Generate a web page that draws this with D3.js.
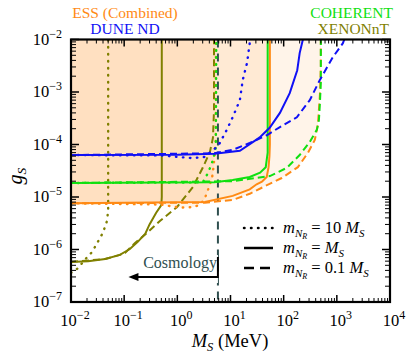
<!DOCTYPE html>
<html>
<head>
<meta charset="utf-8">
<script src="https://cdn.jsdelivr.net/npm/d3@7"></script>
<style>
  body { margin: 0; background: #fff; }
  text { font-family: "Liberation Serif", "Times New Roman", serif; }
</style>
</head>
<body>
<svg id="chart" width="407" height="358"></svg>
<script>
// Each curve is a list of [M_S in MeV, g_S]

// DUNE ND
const duneSolid = [[0.01, 6.3e-5], [1, 6.4e-5], [5, 6.7e-5], [15, 7.6e-5], [35, 1.35e-4], [55, 2.1e-4],
  [85, 4.0e-4], [130, 9.5e-4], [180, 2.6e-3], [200, 5.5e-3], [230, 1e-2]];
const duneDotted = [[0.01, 6.3e-5], [0.5, 6.2e-5], [1, 5.8e-5], [1.95, 5.5e-5], [3.3, 5.8e-5], [4.7, 7.9e-5],
  [5.5, 8.9e-5], [6.3, 1.07e-4], [8.5, 1.9e-4], [11, 3.3e-4], [15, 7e-4], [17, 1.7e-3], [20.5, 3.6e-3],
  [23, 8.6e-3], [25, 1e-2]];
const duneDashed = [[0.01, 6.3e-5], [5, 6.8e-5], [11, 7.9e-5], [23, 1.07e-4], [48, 1.5e-4], [85, 2.15e-4],
  [177, 3.3e-4], [310, 7e-4], [480, 1.7e-3], [840, 4.6e-3], [1300, 8.5e-3], [1380, 1e-2]];

// COHERENT
const coherentSolid = [[0.01, 1.85e-5], [5, 1.9e-5], [11, 2.1e-5], [23, 2.4e-5], [36, 2.9e-5], [46, 3.7e-5],
  [50, 7e-5], [50, 1e-2]];
const coherentDotted = [[0.01, 1.85e-5], [3, 1.9e-5], [3.8, 2.9e-5], [4.7, 5.1e-5], [5.3, 9e-5], [5.4, 1e-2]];
const coherentDashed = [[0.01, 1.85e-5], [11, 2.0e-5], [55, 2.5e-5], [115, 3.6e-5], [200, 6.3e-5],
  [310, 1.12e-4], [420, 1.9e-4], [460, 2.9e-4], [480, 6e-4], [500, 1.5e-3], [500, 1e-2]];

// ESS (Combined)
const essSolid = [[0.01, 7.6e-6], [3.3, 8e-6], [11, 1.05e-5], [23, 1.4e-5], [31, 1.75e-5], [39, 1.95e-5],
  [48, 2.4e-5], [52, 3.7e-5], [54, 6e-5], [55, 1e-4], [55, 1e-2]];
const essDotted = [[0.01, 7.6e-6], [0.47, 7.2e-6], [1.1, 6.3e-6], [2, 6.4e-6], [2.7, 7.2e-6], [3.3, 9.5e-6],
  [3.9, 1.5e-5], [4.5, 2.3e-5], [4.8, 3.8e-5], [5.1, 7e-5], [5.3, 1.3e-4], [5.3, 1e-2]];
const essDashed = [[0.01, 7.6e-6], [3.3, 7.8e-6], [11, 8.8e-6], [23, 1.15e-5], [44, 1.6e-5], [92, 2.3e-5],
  [185, 3.7e-5], [285, 6.9e-5], [385, 1.22e-4], [440, 2.35e-4], [480, 8.7e-4], [500, 3e-3], [500, 1e-2]];

// XENONnT
const xenonSolid = [[0.01, 5.8e-7], [0.021, 6e-7], [0.044, 6.6e-7], [0.083, 7.9e-7], [0.128, 1.02e-6],
  [0.18, 1.4e-6], [0.25, 2e-6], [0.3, 3e-6], [0.4, 5e-6], [0.5, 7e-6], [0.51, 1e-5], [0.51, 1e-2]];
const xenonDotted = [[0.01, 3.6e-7], [0.0135, 4.4e-7], [0.018, 6.3e-7], [0.025, 9e-7], [0.032, 1.4e-6],
  [0.04, 2.1e-6], [0.048, 3.6e-6], [0.05, 6e-6], [0.05, 1e-2]];
const xenonDashed = [[0.01, 5.8e-7], [0.044, 6.6e-7], [0.083, 7.9e-7], [0.104, 8.6e-7], [0.16, 1.33e-6],
  [0.28, 2.15e-6], [0.47, 3.5e-6], [0.98, 6.4e-6], [1.96, 1.55e-5], [3.0, 3.6e-5], [4.1, 7.2e-5],
  [4.67, 1.33e-4], [4.9, 4.5e-4], [4.9, 1e-2]];

// cosmology bound (vertical line)
const cosmoMass = 5.8;

// axes
const xDomain = [1e-2, 1e4];
const yDomain = [1e-7, 1e-2];
const xTickExps = [-2, -1, 0, 1, 2, 3, 4];
const yTickExps = [-7, -6, -5, -4, -3, -2];

const legendLabels = ["10", "", "0.1"];

const svg = d3.select("#chart");
const pLeft = 71, pRight = 390, pTop = 39.5, pBottom = 302;

const x = d3.scaleLog().domain(xDomain).range([pLeft, pRight]);
const y = d3.scaleLog().domain(yDomain).range([pBottom, pTop]);

const colors = {
  dune: "#1010f5",
  coherent: "#10e010",
  ess: "#ff8a14",
  xenon: "#808000",
  cosmo: "#2f4f4f"
};

const dashes = { solid: null, dotted: "0.5,6.5", dashed: "7,4" };

svg.append("clipPath").attr("id", "plotclip")
  .append("rect")
  .attr("x", pLeft).attr("y", pTop)
  .attr("width", pRight - pLeft).attr("height", pBottom - pTop);

const plot = svg.append("g").attr("clip-path", "url(#plotclip)");

const line = d3.line().x(d => x(d[0])).y(d => y(d[1]));

// ESS fills: area above each curve, stacked with low alpha
[essDotted, essSolid, essDashed].forEach(c => {
  const poly = c.concat([[c[c.length - 1][0], 1e-2], [c[0][0], 1e-2]]);
  plot.append("path")
    .attr("d", line(poly) + "Z")
    .attr("fill", "#ff8000")
    .attr("fill-opacity", 0.085)
    .attr("stroke", "none");
});

// cosmology dashed line
plot.append("line")
  .attr("x1", x(cosmoMass)).attr("x2", x(cosmoMass))
  .attr("y1", pTop).attr("y2", pBottom)
  .attr("stroke", colors.cosmo)
  .attr("stroke-width", 2)
  .attr("stroke-dasharray", "8,6");

// curves
const curves = [
  { d: xenonDotted, c: colors.xenon, s: "dotted" },
  { d: xenonDashed, c: colors.xenon, s: "dashed" },
  { d: xenonSolid, c: colors.xenon, s: "solid" },
  { d: essDotted, c: colors.ess, s: "dotted" },
  { d: essDashed, c: colors.ess, s: "dashed" },
  { d: essSolid, c: colors.ess, s: "solid" },
  { d: coherentDotted, c: colors.coherent, s: "dotted" },
  { d: coherentDashed, c: colors.coherent, s: "dashed" },
  { d: coherentSolid, c: colors.coherent, s: "solid" },
  { d: duneDotted, c: colors.dune, s: "dotted" },
  { d: duneDashed, c: colors.dune, s: "dashed" },
  { d: duneSolid, c: colors.dune, s: "solid" }
];

curves.forEach(k => {
  plot.append("path")
    .attr("d", line(k.d))
    .attr("fill", "none")
    .attr("stroke", k.c)
    .attr("stroke-width", k.s === "dotted" ? 2.4 : 2)
    .attr("stroke-linecap", k.s === "dotted" ? "round" : "butt")
    .attr("stroke-dasharray", dashes[k.s]);
});

// Cosmology annotation
const cx = x(cosmoMass);
svg.append("rect")
  .attr("x", cx - 76).attr("y", 255)
  .attr("width", 76).attr("height", 28)
  .attr("fill", "#fff");
svg.append("text")
  .attr("x", cx - 1).attr("y", 268)
  .attr("text-anchor", "end")
  .attr("font-size", 16)
  .attr("fill", colors.cosmo)
  .text("Cosmology");
svg.append("path")
  .attr("d", `M${cx},257 V277 H${x(0.17)}`)
  .attr("fill", "none")
  .attr("stroke", "#000")
  .attr("stroke-width", 2);
svg.append("path")
  .attr("d", `M${x(0.17) - 8},277 l10,-4 v8 Z`)
  .attr("fill", "#000");

// frame + ticks (inward, all four sides)
const frame = svg.append("g");
frame.append("rect")
  .attr("x", pLeft).attr("y", pTop)
  .attr("width", pRight - pLeft).attr("height", pBottom - pTop)
  .attr("fill", "none").attr("stroke", "#000").attr("stroke-width", 2.2);

function logTicks(exps) {
  const out = [];
  for (let i = 0; i < exps.length; i++) {
    const p = Math.pow(10, exps[i]);
    out.push({ v: p, major: true });
    if (i < exps.length - 1) {
      for (let m = 2; m <= 9; m++) out.push({ v: m * p, major: false });
    }
  }
  return out;
}

logTicks(xTickExps).forEach(t => {
  const len = t.major ? 7 : 4;
  const px = x(t.v);
  frame.append("line").attr("x1", px).attr("x2", px).attr("y1", pBottom).attr("y2", pBottom - len)
    .attr("stroke", "#000").attr("stroke-width", t.major ? 1.5 : 1);
  frame.append("line").attr("x1", px).attr("x2", px).attr("y1", pTop).attr("y2", pTop + len)
    .attr("stroke", "#000").attr("stroke-width", t.major ? 1.5 : 1);
});

logTicks(yTickExps).forEach(t => {
  const len = t.major ? 8 : 5;
  const py = y(t.v);
  frame.append("line").attr("x1", pLeft).attr("x2", pLeft + len).attr("y1", py).attr("y2", py)
    .attr("stroke", "#000").attr("stroke-width", t.major ? 1.5 : 1);
  frame.append("line").attr("x1", pRight).attr("x2", pRight - len).attr("y1", py).attr("y2", py)
    .attr("stroke", "#000").attr("stroke-width", t.major ? 1.5 : 1);
});

// tick labels: 10^n
function powLabel(g, px, py, exp, anchor) {
  const t = g.append("text")
    .attr("x", px).attr("y", py)
    .attr("text-anchor", anchor)
    .attr("font-size", 16.5)
    .attr("fill", "#000");
  t.append("tspan").text("10");
  t.append("tspan").attr("dy", -7).attr("font-size", 12)
    .text(exp < 0 ? "\u2212" + (-exp) : String(exp));
}

xTickExps.forEach(e => powLabel(svg, x(Math.pow(10, e)) + 4, 326, e, "middle"));
yTickExps.forEach(e => powLabel(svg, 62, y(Math.pow(10, e)) + 5, e, "end"));

// axis titles
const xt = svg.append("text")
  .attr("x", 230).attr("y", 347)
  .attr("text-anchor", "middle")
  .attr("font-size", 18.5);
xt.append("tspan").attr("font-style", "italic").text("M");
xt.append("tspan").attr("font-style", "italic").attr("font-size", 12.5).attr("dy", 4).text("S");
xt.append("tspan").attr("dy", -4).text(" (MeV)");

const yt = svg.append("text")
  .attr("transform", "translate(22,176) rotate(-90)")
  .attr("text-anchor", "middle")
  .attr("font-size", 20);
yt.append("tspan").attr("font-style", "italic").text("g");
yt.append("tspan").attr("font-style", "italic").attr("font-size", 13.5).attr("dy", 4).text("S");

// experiment labels on top
svg.append("text").attr("x", 125).attr("y", 18).attr("text-anchor", "middle")
  .attr("font-size", 15.5).attr("fill", colors.ess).text("ESS (Combined)");
svg.append("text").attr("x", 125).attr("y", 34).attr("text-anchor", "middle")
  .attr("font-size", 15.5).attr("fill", colors.dune).text("DUNE ND");
svg.append("text").attr("x", 393).attr("y", 18).attr("text-anchor", "end")
  .attr("font-size", 15.5).attr("fill", colors.coherent).text("COHERENT");
svg.append("text").attr("x", 389).attr("y", 34).attr("text-anchor", "end")
  .attr("font-size", 15.5).attr("fill", colors.xenon).text("XENONnT");

// legend for line styles
const legStyles = ["dotted", "solid", "dashed"];
const legY = [228, 248, 268];
legStyles.forEach((s, i) => {
  svg.append("line")
    .attr("x1", 244).attr("x2", 273)
    .attr("y1", legY[i]).attr("y2", legY[i])
    .attr("stroke", "#000").attr("stroke-width", 2.5)
    .attr("stroke-linecap", s === "dotted" ? "round" : "butt")
    .attr("stroke-dasharray", s === "dotted" ? "0.5,6.5" : s === "dashed" ? "10,6" : null);

  const t = svg.append("text").attr("x", 283).attr("y", legY[i] + 5).attr("font-size", 16.5);
  t.append("tspan").attr("font-style", "italic").text("m");
  t.append("tspan").attr("font-style", "italic").attr("font-size", 11).attr("dy", 4).text("N");
  t.append("tspan").attr("font-style", "italic").attr("font-size", 8).attr("dy", 2).text("R");
  t.append("tspan").attr("dy", -6).text(" = " + (legendLabels[i] ? legendLabels[i] + " " : ""));
  t.append("tspan").attr("font-style", "italic").text("M");
  t.append("tspan").attr("font-style", "italic").attr("font-size", 11).attr("dy", 4).text("S");
});
</script>
</body>
</html>
